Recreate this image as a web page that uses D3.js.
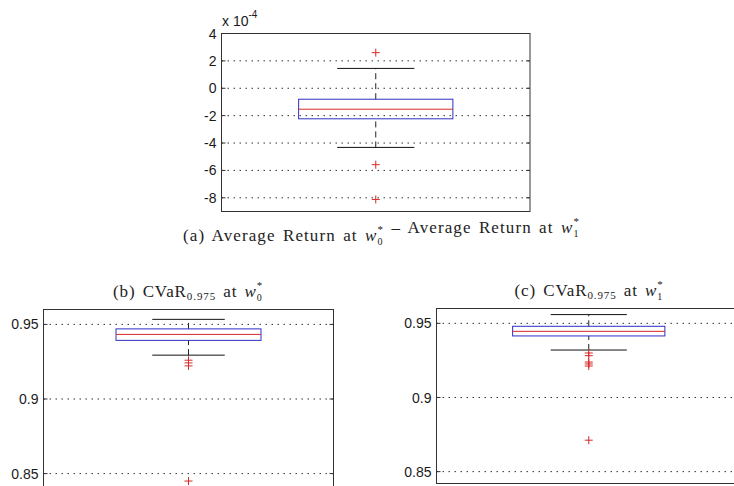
<!DOCTYPE html>
<html lang="en">
<head>
<meta charset="UTF-8">
<title>Box plots</title>
<script src="https://d3js.org/d3.v7.min.js"></script>
<style>
 body { margin: 0; background: #fff; }
 .tick-label { font-family: "Liberation Sans", Arial, sans-serif; font-size: 14px; fill: #1a1a1a; }
 .title { font-family: "Liberation Serif", "Times New Roman", serif; font-size: 17px; fill: #222; }
 .grid { stroke: #333; stroke-width: 1; stroke-dasharray: 1.5,4.5; }
 .frame { fill: none; stroke: #333; stroke-width: 1; }
</style>
</head>
<body>
<svg id="chart" width="734" height="486"></svg>
<script>
// box stats: [lower whisker, q1, median, q3, upper whisker]
const statsA = [-4.32, -2.23, -1.53, -0.8, 1.45];   // x 1e-4
const outliersA = [2.6, -5.58, -8.12];
const ticksA = [-8, -6, -4, -2, 0, 2, 4];

const statsB = [0.9294, 0.9393, 0.9433, 0.947, 0.9534];
const outliersB = [0.926, 0.9242, 0.9222, 0.845];

const statsC = [0.932, 0.9415, 0.9446, 0.948, 0.9559];
const outliersC = [0.930, 0.9282, 0.9239, 0.9226, 0.9212, 0.8712];
const ticksBC = [0.85, 0.9, 0.95];

const svg = d3.select('#chart');

function drawPanel(opt) {
  const x = d3.scaleLinear().domain([0.5, 1.5]).range([opt.left, opt.right]);
  const y = d3.scaleLinear().domain(opt.domain).range([opt.bottom, opt.top]);
  const g = svg.append('g');

  // grid
  g.selectAll('.grid').data(opt.ticks).enter().append('line')
    .attr('class', 'grid')
    .attr('x1', opt.left).attr('x2', opt.right)
    .attr('y1', d => y(d)).attr('y2', d => y(d));

  // inward ticks left and right
  opt.ticks.forEach(t => {
    g.append('line').attr('x1', opt.left).attr('x2', opt.left + 4)
      .attr('y1', y(t)).attr('y2', y(t)).attr('stroke', '#333');
    g.append('line').attr('x1', opt.right - 4).attr('x2', opt.right)
      .attr('y1', y(t)).attr('y2', y(t)).attr('stroke', '#333');
  });

  // tick labels
  g.selectAll('.tick-label').data(opt.ticks).enter().append('text')
    .attr('class', 'tick-label')
    .attr('x', opt.left - 5)
    .attr('y', d => y(d))
    .attr('dy', '0.36em')
    .attr('text-anchor', 'end')
    .text(opt.fmt);

  // frame
  g.append('rect').attr('class', 'frame')
    .attr('x', opt.left).attr('y', opt.top)
    .attr('width', opt.right - opt.left).attr('height', opt.bottom - opt.top);

  const s = opt.stats;
  const cx = x(1);
  // whiskers
  [[s[0], s[1]], [s[3], s[4]]].forEach(w => {
    g.append('line').attr('x1', cx).attr('x2', cx)
      .attr('y1', y(w[0])).attr('y2', y(w[1]))
      .attr('stroke', '#222').attr('stroke-dasharray', '6,4');
  });
  [s[0], s[4]].forEach(v => {
    g.append('line').attr('x1', x(0.875)).attr('x2', x(1.125))
      .attr('y1', y(v)).attr('y2', y(v)).attr('stroke', '#111');
  });
  // box
  g.append('rect')
    .attr('x', x(0.75)).attr('width', x(1.25) - x(0.75))
    .attr('y', y(s[3])).attr('height', y(s[1]) - y(s[3]))
    .attr('fill', 'none').attr('stroke', '#2f2fc4');
  g.append('line').attr('x1', x(0.75)).attr('x2', x(1.25))
    .attr('y1', y(s[2])).attr('y2', y(s[2])).attr('stroke', '#d62828');

  // outliers
  opt.outliers.forEach(v => {
    g.append('line').attr('x1', cx - 4).attr('x2', cx + 4)
      .attr('y1', y(v)).attr('y2', y(v)).attr('stroke', '#d62828');
    g.append('line').attr('x1', cx).attr('x2', cx)
      .attr('y1', y(v) - 4).attr('y2', y(v) + 4).attr('stroke', '#d62828');
  });
  return g;
}

drawPanel({ left: 221.5, right: 530, top: 33.5, bottom: 211.5, domain: [-9, 4],
  ticks: ticksA, fmt: d => String(d),
  stats: statsA, outliers: outliersA });

drawPanel({ left: 43.5, right: 333.5, top: 309.5, bottom: 488.5, domain: [0.84, 0.96],
  ticks: ticksBC, fmt: d => String(d),
  stats: statsB, outliers: outliersB });

drawPanel({ left: 436.5, right: 741, top: 308.5, bottom: 483.5, domain: [0.842, 0.96],
  ticks: ticksBC, fmt: d => String(d),
  stats: statsC, outliers: outliersC });

// exponent label
const ex = svg.append('text').attr('class', 'tick-label').attr('x', 222).attr('y', 26);
ex.append('tspan').text('x 10');
ex.append('tspan').attr('dy', -8).attr('font-size', 10).text('-4');

// titles
function wTerm(t, sub) {
  t.append('tspan').attr('font-style', 'italic').text('w');
  t.append('tspan').attr('dy', 4).attr('font-size', 10).text(sub);
  t.append('tspan').attr('dx', -6).attr('dy', -12).attr('font-size', 11).text('*');
  t.append('tspan').attr('dy', 8).text('');
}

const ta = svg.append('text').attr('class', 'title').attr('x', 183).attr('y', 241)
  .attr('letter-spacing', 1.1).attr('word-spacing', 2);
ta.append('tspan').text('(a) Average Return at ');
wTerm(ta, '0');
ta.append('tspan').text(' \u2013 Average Return at ');
wTerm(ta, '1');

function cvarTitle(x, y, letter, sub) {
  const t = svg.append('text').attr('class', 'title').attr('x', x).attr('y', y)
    .attr('text-anchor', 'middle').attr('letter-spacing', 0.9).attr('word-spacing', 2);
  t.append('tspan').text('(' + letter + ') CVaR');
  t.append('tspan').attr('dy', 3).attr('font-size', 11).text('0.975');
  t.append('tspan').attr('dy', -3).text(' at ');
  wTerm(t, sub);
}
cvarTitle(188, 297, 'b', '0');
cvarTitle(589, 296, 'c', '1');
</script>
</body>
</html>
